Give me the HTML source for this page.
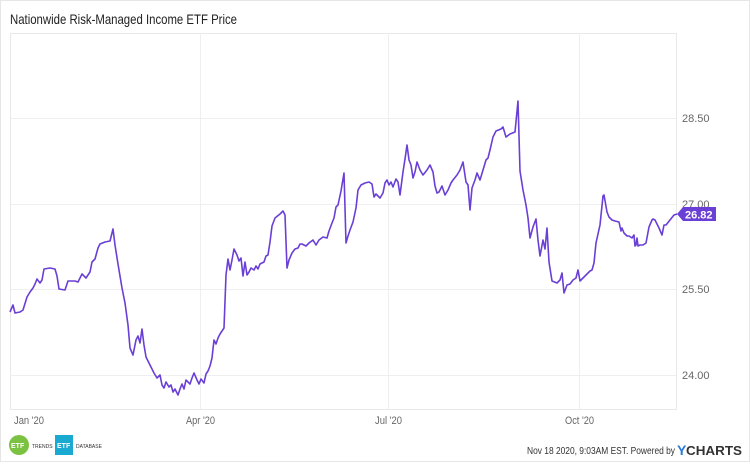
<!DOCTYPE html>
<html><head><meta charset="utf-8"><style>
body{margin:0;background:#fff;}
svg text{font-family:"Liberation Sans",sans-serif;}
</style></head><body>
<svg width="750" height="462" xmlns="http://www.w3.org/2000/svg">
<rect x="0.5" y="0.5" width="749" height="461" fill="#fff" stroke="#e6e6e6"/>
<text x="10" y="24" font-size="14" fill="#222" textLength="227" lengthAdjust="spacingAndGlyphs">Nationwide Risk-Managed Income ETF Price</text>
<rect x="10.5" y="33.5" width="666" height="376" fill="none" stroke="#e8e8e8"/>
<g stroke="#efefef" stroke-width="1">
<line x1="10" y1="118.5" x2="676" y2="118.5"/>
<line x1="10" y1="204.5" x2="676" y2="204.5"/>
<line x1="10" y1="289.5" x2="676" y2="289.5"/>
<line x1="10" y1="375.5" x2="676" y2="375.5"/>
<line x1="200.5" y1="33" x2="200.5" y2="409"/>
<line x1="388.5" y1="33" x2="388.5" y2="409"/>
<line x1="579.5" y1="33" x2="579.5" y2="409"/>
</g>
<g font-size="11" fill="#666">
<text x="682" y="122">28.50</text>
<text x="682" y="208">27.00</text>
<text x="682" y="293">25.50</text>
<text x="682" y="379">24.00</text>
<text x="14" y="424" textLength="30" lengthAdjust="spacingAndGlyphs">Jan '20</text>
<text x="186" y="424" textLength="29" lengthAdjust="spacingAndGlyphs">Apr '20</text>
<text x="375" y="424" textLength="27" lengthAdjust="spacingAndGlyphs">Jul '20</text>
<text x="565" y="424" textLength="29" lengthAdjust="spacingAndGlyphs">Oct '20</text>
</g>
<polyline fill="none" stroke="#6a3fd6" stroke-width="1.6" stroke-linejoin="round" points="10,312 13,305 15,313 20,312 23,310 27,297 30,292 33,288 35,284 37,279 40,283 42,280 44,269 50,268 55,269 57,276 59,289 65,290 68,281 75,281 78,282 82,274 86,278 90,272 92,262 95,259 98,248 100,244 105,242 110,241 113,229 115,245 118,264 122,288 125,303 128,325 130,348 133,355 136,340 138,336 140,343 142,329 144,345 146,357 150,365 154,373 157,378 160,375 162,385 164,388 166,382 169,387 171,385 173,392 175,389 178,395 180,389 182,384 184,389 186,380 190,384 192,378 194,373 197,380 199,384 201,379 204,383 206,374 208,371 210,366 212,358 214,340 216,344 218,338 220,334 224,328 226,275 228,259 230,270 232,260 234,249 237,255 239,261 241,258 243,276 245,262 247,275 249,272 251,268 254,270 256,266 258,269 260,264 264,262 266,256 268,255 270,242 272,226 275,218 280,214 283,211 285,215 287,268 289,260 292,253 295,249 298,248 300,244 302,244 306,246 309,243 313,240 316,245 319,240 323,237 327,238 329,231 332,223 334,218 336,207 338,205 341,191 344,173 346,243 348,236 350,230 353,222 356,208 358,190 361,185 365,183 369,182 372,184 374,197 376,194 380,198 383,193 385,183 387,180 389,185 391,182 393,187 396,179 398,182 400,195 403,172 405,159 407,145 409,160 411,165 413,178 415,172 417,162 420,170 423,175 427,170 430,165 433,172 435,186 437,193 439,192 442,186 445,195 448,190 451,183 453,180 457,175 460,170 463,162 466,182 468,185 470,210 472,188 475,180 477,173 480,180 483,170 486,160 488,158 490,150 493,137 496,131 501,129 503,127 506,137 510,134 515,132 518,101 520,171 523,190 526,205 528,218 530,238 533,227 536,219 538,240 540,256 543,240 545,249 547,228 549,262 552,281 557,283 560,280 562,273 564,293 567,285 570,284 573,280 576,278 578,270 580,281 584,277 588,273 590,271 592,270 594,263 596,243 600,225 603,196 604,195 607,212 609,217 612,220 615,221 619,222 621,231 622,228 624,233 627,236 629,236 632,238 634,235 635,246 636,245 637,238 638,246 640,245 643,245 646,243 649,227 652,220 653,219 655,220 659,228 662,235 664,225 666,225 670,220 674,215 677,214"/>
<polygon points="677,214 683,207 716,207 716,221 683,221" fill="#6a3fd6"/>
<text x="685" y="218.5" font-size="11" font-weight="bold" fill="#fff">26.82</text>
<circle cx="19" cy="445" r="10" fill="#7cc242"/>
<text x="11" y="448" font-size="7" font-weight="bold" fill="#fff">ETF</text>
<text x="32" y="448" font-size="5" fill="#333">TRENDS</text>
<rect x="55" y="435" width="18" height="20" fill="#19a9d1"/>
<text x="57" y="448" font-size="7" font-weight="bold" fill="#fff">ETF</text>
<text x="76" y="448" font-size="5" fill="#333">DATABASE</text>
<text x="527" y="454" font-size="10" fill="#333" textLength="148" lengthAdjust="spacingAndGlyphs">Nov 18 2020, 9:03AM EST. Powered by</text>
<text x="677" y="455" font-size="14" font-weight="bold" fill="#2b7bd6">Y</text>
<text x="686" y="455" font-size="13" font-weight="bold" fill="#333" textLength="56" lengthAdjust="spacingAndGlyphs">CHARTS</text>
</svg>
</body></html>
